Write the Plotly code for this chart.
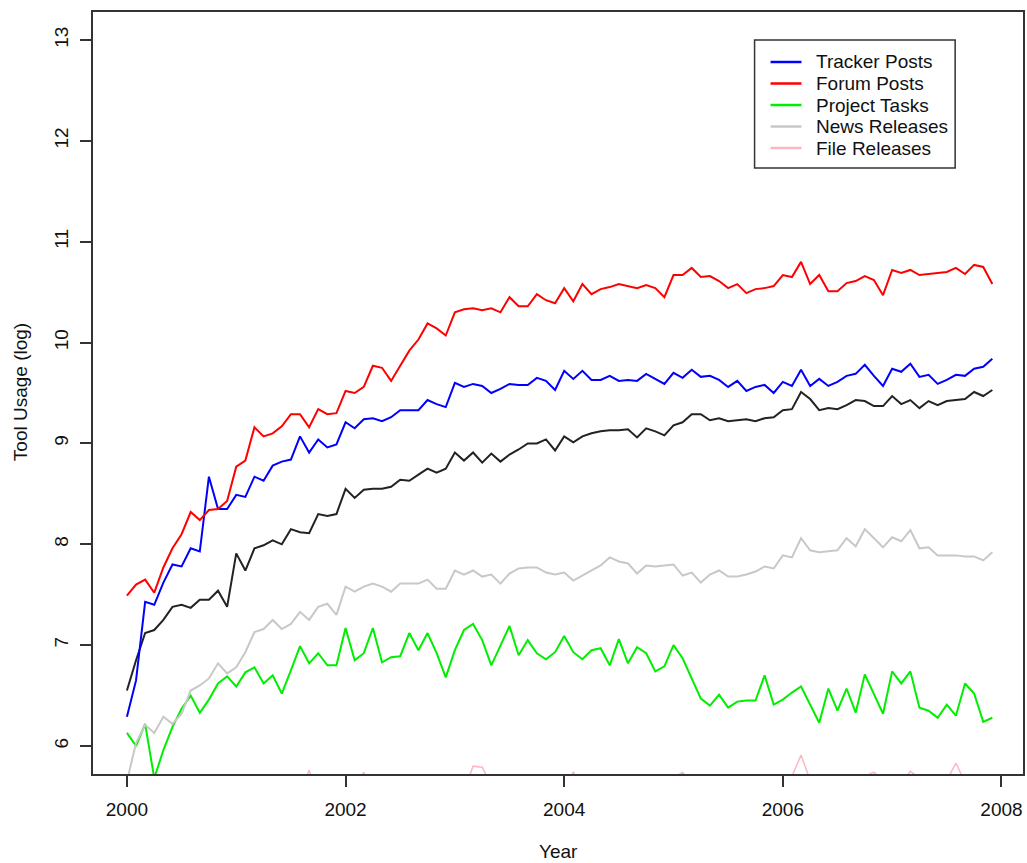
import plotly.graph_objects as go

# monthly observations, Jan 2000 .. Dec 2007
years = [2000 + i / 12 for i in range(96)]

tracker_posts = [6.29, 6.65, 7.43, 7.40, 7.62, 7.80, 7.78, 7.96, 7.93, 8.67, 8.35, 8.35,
                 8.49, 8.47, 8.67, 8.63, 8.78, 8.82, 8.84, 9.07, 8.91, 9.04, 8.96, 8.99,
                 9.21, 9.15, 9.24, 9.25, 9.22, 9.26, 9.33, 9.33, 9.33, 9.43, 9.39, 9.36,
                 9.60, 9.56, 9.59, 9.57, 9.50, 9.54, 9.59, 9.58, 9.58, 9.65, 9.62, 9.53,
                 9.72, 9.64, 9.72, 9.63, 9.63, 9.67, 9.62, 9.63, 9.62, 9.69, 9.64, 9.59,
                 9.70, 9.65, 9.73, 9.66, 9.67, 9.63, 9.56, 9.62, 9.52, 9.56, 9.58, 9.50,
                 9.61, 9.57, 9.73, 9.57, 9.64, 9.57, 9.61, 9.67, 9.69, 9.78, 9.67, 9.57,
                 9.74, 9.71, 9.79, 9.66, 9.68, 9.59, 9.63, 9.68, 9.67, 9.74, 9.76, 9.84]

forum_posts = [7.49, 7.60, 7.65, 7.52, 7.77, 7.96, 8.10, 8.32, 8.24, 8.34, 8.35, 8.43,
               8.77, 8.83, 9.16, 9.07, 9.10, 9.17, 9.29, 9.29, 9.16, 9.34, 9.29, 9.30,
               9.52, 9.50, 9.56, 9.77, 9.75, 9.62, 9.77, 9.92, 10.03, 10.19, 10.14, 10.07,
               10.30, 10.33, 10.34, 10.32, 10.34, 10.30, 10.45, 10.36, 10.36, 10.48, 10.42, 10.39,
               10.54, 10.41, 10.58, 10.48, 10.53, 10.55, 10.58, 10.56, 10.54, 10.57, 10.54, 10.45,
               10.67, 10.67, 10.74, 10.65, 10.66, 10.61, 10.54, 10.58, 10.49, 10.53, 10.54, 10.56,
               10.67, 10.65, 10.80, 10.58, 10.67, 10.51, 10.51, 10.59, 10.61, 10.66, 10.62, 10.47,
               10.72, 10.69, 10.72, 10.67, 10.68, 10.69, 10.70, 10.74, 10.68, 10.77, 10.75, 10.58]

project_tasks = [6.13, 6.00, 6.22, 5.68, 5.96, 6.19, 6.37, 6.50, 6.33, 6.46, 6.62, 6.69,
                 6.59, 6.73, 6.78, 6.62, 6.70, 6.52, 6.75, 6.99, 6.82, 6.92, 6.80, 6.80,
                 7.17, 6.85, 6.92, 7.17, 6.83, 6.88, 6.89, 7.12, 6.95, 7.12, 6.92, 6.68,
                 6.95, 7.15, 7.21, 7.05, 6.80, 7.00, 7.19, 6.90, 7.05, 6.92, 6.86, 6.93,
                 7.09, 6.93, 6.86, 6.95, 6.97, 6.80, 7.06, 6.82, 6.98, 6.92, 6.74, 6.79,
                 7.00, 6.87, 6.67, 6.47, 6.40, 6.51, 6.38, 6.44, 6.45, 6.45, 6.70, 6.41,
                 6.46, 6.53, 6.59, 6.41, 6.23, 6.57, 6.35, 6.57, 6.33, 6.71, 6.51, 6.32,
                 6.74, 6.62, 6.74, 6.38, 6.35, 6.28, 6.41, 6.30, 6.62, 6.52, 6.24, 6.28]

news_releases = [5.65, 6.03, 6.21, 6.13, 6.29, 6.22, 6.32, 6.55, 6.60, 6.67, 6.82, 6.72,
                 6.78, 6.93, 7.13, 7.16, 7.25, 7.16, 7.21, 7.33, 7.25, 7.38, 7.41, 7.30,
                 7.58, 7.53, 7.58, 7.61, 7.58, 7.53, 7.61, 7.61, 7.61, 7.65, 7.56, 7.56,
                 7.74, 7.70, 7.74, 7.68, 7.70, 7.61, 7.71, 7.76, 7.77, 7.77, 7.72, 7.70,
                 7.72, 7.64, 7.69, 7.74, 7.79, 7.87, 7.83, 7.81, 7.71, 7.79, 7.78, 7.79,
                 7.80, 7.69, 7.72, 7.62, 7.70, 7.74, 7.68, 7.68, 7.70, 7.73, 7.78, 7.76,
                 7.89, 7.87, 8.06, 7.94, 7.92, 7.93, 7.94, 8.06, 7.98, 8.15, 8.06, 7.97,
                 8.07, 8.03, 8.14, 7.96, 7.97, 7.89, 7.89, 7.89, 7.88, 7.88, 7.84, 7.92]

file_releases = [5.21, 5.35, 5.28, 5.40, 5.33, 5.26, 5.45, 5.38, 5.30, 5.42, 5.36, 5.29,
                 5.44, 5.37, 5.50, 5.41, 5.33, 5.46, 5.39, 5.52, 5.76, 5.48, 5.40, 5.55,
                 5.47, 5.58, 5.74, 5.51, 5.44, 5.57, 5.49, 5.60, 5.53, 5.46, 5.59, 5.52,
                 5.62, 5.55, 5.80, 5.79, 5.61, 5.54, 5.63, 5.57, 5.50, 5.62, 5.56, 5.64,
                 5.58, 5.74, 5.60, 5.66, 5.55, 5.63, 5.59, 5.67, 5.61, 5.54, 5.65, 5.60,
                 5.68, 5.74, 5.62, 5.57, 5.66, 5.61, 5.69, 5.63, 5.58, 5.66, 5.62, 5.68,
                 5.64, 5.70, 5.91, 5.66, 5.65, 5.69, 5.62, 5.67, 5.64, 5.70, 5.74, 5.66,
                 5.69, 5.63, 5.75, 5.68, 5.65, 5.68, 5.66, 5.83, 5.64, 5.70, 5.66, 5.69]

total_usage = [6.55, 6.85, 7.12, 7.15, 7.25, 7.38, 7.40, 7.37, 7.45, 7.45, 7.54, 7.38,
               7.91, 7.74, 7.96, 7.99, 8.04, 8.00, 8.15, 8.12, 8.11, 8.30, 8.28, 8.30,
               8.55, 8.46, 8.54, 8.55, 8.55, 8.57, 8.64, 8.63, 8.69, 8.75, 8.71, 8.75,
               8.91, 8.83, 8.91, 8.81, 8.90, 8.82, 8.89, 8.94, 9.00, 9.00, 9.04, 8.93,
               9.07, 9.01, 9.07, 9.10, 9.12, 9.13, 9.13, 9.14, 9.06, 9.15, 9.12, 9.08,
               9.18, 9.21, 9.29, 9.29, 9.23, 9.25, 9.22, 9.23, 9.24, 9.22, 9.25, 9.26,
               9.33, 9.34, 9.51, 9.44, 9.33, 9.35, 9.34, 9.38, 9.43, 9.42, 9.37, 9.37,
               9.47, 9.39, 9.43, 9.35, 9.42, 9.38, 9.42, 9.43, 9.44, 9.51, 9.47, 9.53]

series_names = ["Tracker Posts", "Forum Posts", "Project Tasks", "News Releases", "File Releases"]
series_values = [tracker_posts, forum_posts, project_tasks, news_releases, file_releases]
series_colors = ["#0000FF", "#FF0000", "#00EE00", "#C8C8C8", "#FFB6C1"]
series_widths = [2, 2, 2, 2, 1.5]

x_ticks = [2000, 2002, 2004, 2006, 2008]
y_ticks = [6, 7, 8, 9, 10, 11, 12, 13]

FONT = "Liberation Sans, Arial, Helvetica, sans-serif"
AXC = "#333333"
TXT = "#111111"

fig = go.Figure()
fig.add_trace(go.Scatter(x=years, y=total_usage, mode="lines", name="Total",
                         line=dict(color="#222222", width=2), showlegend=False))
for name, vals, col, w in zip(series_names, series_values, series_colors, series_widths):
    fig.add_trace(go.Scatter(x=years, y=vals, mode="lines", name=name,
                             line=dict(color=col, width=w), showlegend=False))

# page geometry (body margin removed in post_script, so figure px == page px)
W, H = 1027, 863
L, R, T, B = 93, 1025, 12, 774

def px(x):
    return (x - L) / (R - L)

def py(y):
    return (B - y) / (B - T)

shapes = []
annotations = []
# legend box
shapes.append(dict(type="rect", xref="paper", yref="paper",
                   x0=px(756), x1=px(957), y0=py(168), y1=py(40),
                   line=dict(color=AXC, width=1.5), fillcolor="white"))
leg_y = [62, 83.5, 105, 126.5, 148]
for name, col, yy in zip(series_names, series_colors, leg_y):
    shapes.append(dict(type="line", xref="paper", yref="paper",
                       x0=px(772), x1=px(803), y0=py(yy), y1=py(yy),
                       line=dict(color=col, width=2.5)))
    annotations.append(dict(text=name, xref="paper", yref="paper", x=px(816), y=py(yy),
                            xanchor="left", yanchor="middle", showarrow=False,
                            font=dict(family=FONT, size=19, color=TXT)))

annotations.append(dict(text="Year", xref="paper", yref="paper", x=px(560), y=py(851),
                        xanchor="center", yanchor="middle", showarrow=False,
                        font=dict(family=FONT, size=19, color=TXT)))
annotations.append(dict(text="Tool Usage (log)", xref="paper", yref="paper", x=px(20), y=py(392),
                        xanchor="center", yanchor="middle", showarrow=False, textangle=-90,
                        font=dict(family=FONT, size=19, color=TXT)))

# axis ranges (2000 at x=127, 109.55 px/yr; 6 at y=746, 100.86 px/unit)
x0 = 2000 - (127 - L) / 109.55
x1 = 2000 + (R - 127) / 109.55
y0 = 6 - (B - 746) / 100.86
y1 = 13 + (40 - T) / 100.86

fig.update_layout(
    width=W, height=H,
    margin=dict(l=L, r=W - R, t=T, b=H - B, pad=0),
    plot_bgcolor="white", paper_bgcolor="white",
    showlegend=False,
    shapes=shapes, annotations=annotations,
    font=dict(family=FONT, size=19, color=TXT),
    xaxis=dict(range=[x0, x1], tickvals=x_ticks, ticktext=[str(v) for v in x_ticks],
               showgrid=False, zeroline=False, showline=True, mirror=True,
               linecolor=AXC, linewidth=2, ticks="outside", ticklen=11, tickwidth=2,
               tickcolor=AXC, ticklabelstandoff=6,
               tickfont=dict(family=FONT, size=19, color=TXT)),
    yaxis=dict(range=[y0, y1], tickvals=y_ticks, ticktext=[str(v) for v in y_ticks],
               showgrid=False, zeroline=False, showline=True, mirror=True,
               linecolor=AXC, linewidth=2, ticks="outside", ticklen=11, tickwidth=2,
               tickcolor=AXC, tickangle=-90, ticklabelstandoff=4,
               tickfont=dict(family=FONT, size=19, color=TXT)),
)

fig.write_html(
    "out.html",
    config={"displayModeBar": False},
    post_script="document.body.style.margin='0';document.documentElement.style.overflow='hidden';",
)
